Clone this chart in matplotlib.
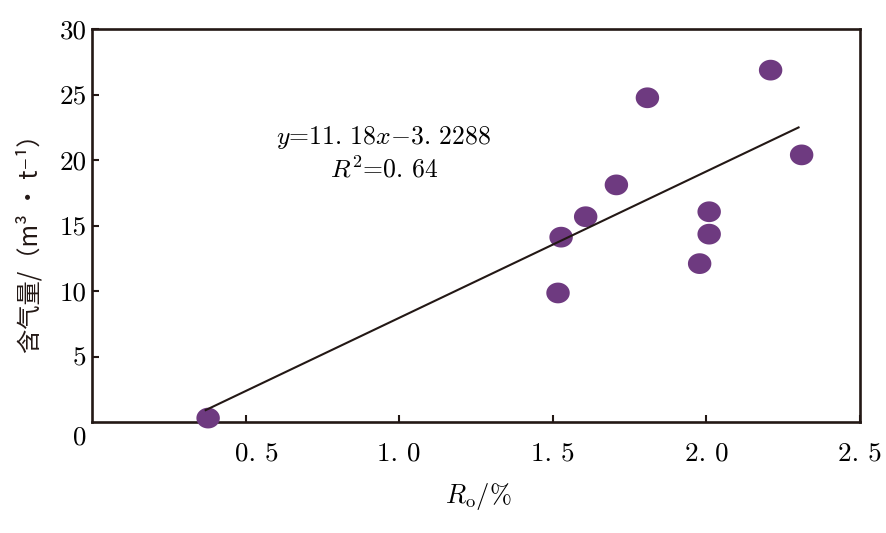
import numpy as np
import matplotlib
matplotlib.use("Agg")
import matplotlib.pyplot as plt
import matplotlib.transforms as mtransforms

ro = [0.378, 1.517, 1.527, 1.607, 1.707, 1.808, 1.978, 2.009, 2.009, 2.209, 2.310]
gas = [0.30, 9.85, 14.11, 15.67, 18.10, 24.75, 12.09, 14.34, 16.05, 26.86, 20.39]
slope, intercept = 11.18, -3.2288
fit_x = [0.37, 2.30]
xticks = [0.5, 1.0, 1.5, 2.0, 2.5]
xticklabels = ["0. 5", "1. 0", "1. 5", "2. 0", "2. 5"]
yticks = [5, 10, 15, 20, 25, 30]
yticklabels = ["5", "10", "15", "20", "25", "30"]

plt.rcParams['mathtext.fontset'] = 'cm'
plt.rcParams['axes.unicode_minus'] = False

fig = plt.figure(figsize=(8.86, 5.33), dpi=100)
ax = fig.add_axes([92/886, 1-422/533, (860-92)/886, (422-29)/533])

t = np.linspace(0, 2*np.pi, 80)
ell = list(zip(1.13*np.cos(t), np.sin(t)))
ax.scatter(ro, gas, marker=ell, s=285, color='#6E3A80', edgecolors='none', zorder=3, clip_on=False)

fx = np.array(fit_x)
ax.plot(fx, slope*fx + intercept, color='#231815', lw=1.5, zorder=4)

ax.set_xlim(0, 2.5)
ax.set_ylim(0, 30)
ax.set_xticks(xticks)
ax.set_xticklabels(xticklabels, family='cmr10', fontsize=19.5)
ax.set_yticks(yticks)
ax.set_yticklabels(yticklabels, family='cmr10', fontsize=19.5)
ax.tick_params(direction='in', length=5, width=1.5, color='#231815')
ax.tick_params(axis='x', pad=14)
ax.tick_params(axis='y', pad=4)
for s in ax.spines.values():
    s.set_linewidth(1.9)
    s.set_color('#231815')

# first x tick label sits slightly right of its tick in the reference
first = ax.get_xticklabels()[0]
first.set_transform(first.get_transform() + mtransforms.ScaledTranslation(8/72, 0, fig.dpi_scale_trans))

ax.annotate("0", xy=(0, 0), xycoords='data', xytext=(-8.5, -11.5), textcoords='offset points',
            ha='center', va='center', family='cmr10', fontsize=19.5)

ax.text(0.948, 21.7, r"$y$=11. 18$x$−3. 2288", ha='center', va='center', fontsize=18.5, family='cmr10')
ax.text(0.95, 19.3, r"$R^2$=0. 64", ha='center', va='center', fontsize=18.5, family='cmr10')

fig.text(478/886, 1-497/533, r"$R_{\rm o}$/%", ha='center', va='center', fontsize=19, family='cmr10')
fig.text(30/886, 1-238/533, "含气量/（m³ • t⁻¹）", rotation=90, ha='center', va='center',
         fontsize=17.5, family=['Noto Sans CJK SC', 'DejaVu Sans'], color='#231815')

fig.savefig("out.png", dpi=100)
